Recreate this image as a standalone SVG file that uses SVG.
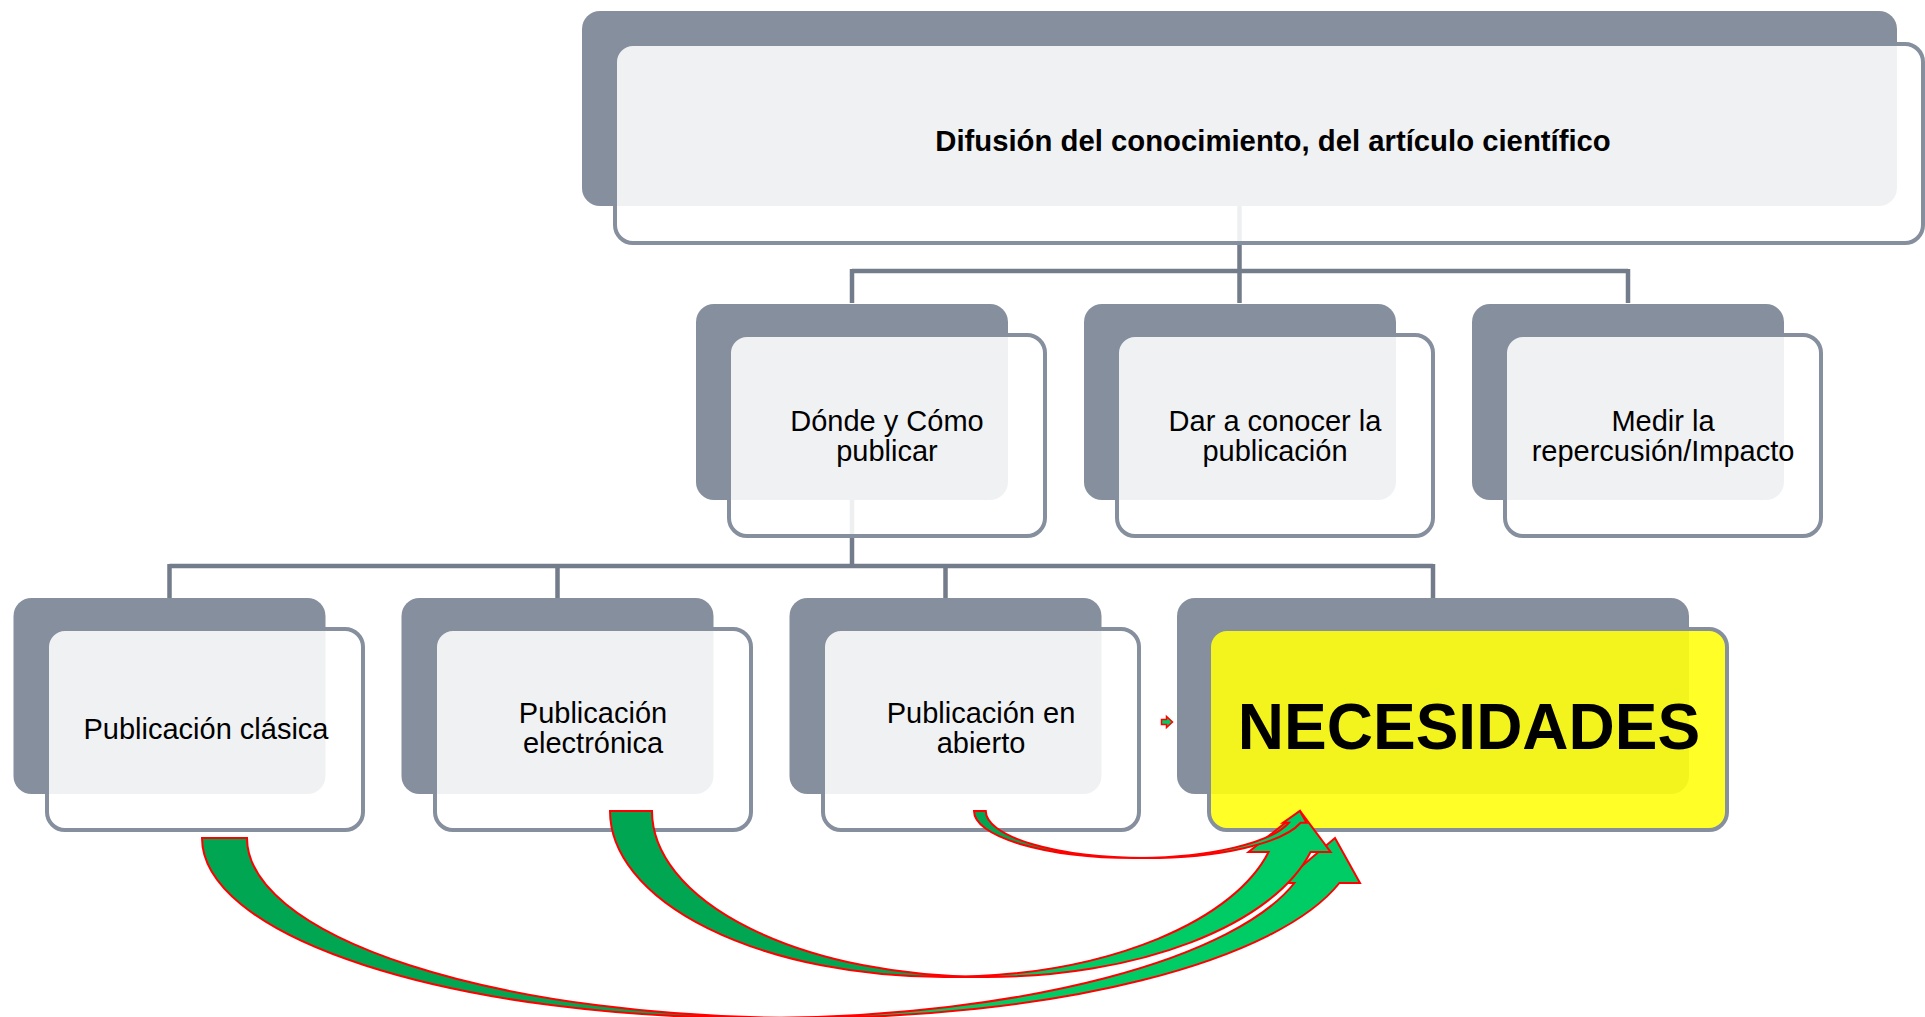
<svg xmlns="http://www.w3.org/2000/svg" width="1925" height="1017" viewBox="0 0 1925 1017">
<defs>
<style>
.back{fill:#868F9D;}
.front{fill:#FFFFFF;fill-opacity:0.88;stroke:#868F9D;stroke-width:4;}
.fronty{fill:#FFFF10;fill-opacity:0.9;stroke:#868F9D;stroke-width:4;}
.conn{stroke:#737C8B;stroke-width:4.5;fill:none;}
.lbl{font-family:"Liberation Sans",Arial,sans-serif;font-size:29px;fill:#000;text-anchor:middle;}
.bold{font-weight:bold;}
.al{fill:#00CC66;stroke:none;}
.ad{fill:#00A651;stroke:none;}
.ao{fill:none;stroke:#FF0000;stroke-width:2;stroke-linejoin:miter;}
</style>
</defs>
<rect width="1925" height="1017" fill="#FFFFFF"/>
<g id="connectors">
<path class="conn" d="M1239.5,206 V271 M852,271 H1628 M852,269 V303 M1239.5,269 V303 M1628,269 V303"/>
<path class="conn" d="M852,500 V566 M169.5,566 H1433 M169.5,564 V598 M557.5,564 V598 M945.5,564 V598 M1433,564 V598"/>
</g>
<g id="node-top">
<rect class="back" x="582" y="11" width="1315" height="195" rx="18"/>
<rect class="front" x="615" y="44" width="1308" height="199" rx="18"/>
<text class="lbl bold" x="1273" y="151" style="font-size:29.3px">Difusión del conocimiento, del artículo científico</text>
</g>
<g id="node-donde">
<rect class="back" x="696" y="304" width="312" height="196" rx="18"/>
<rect class="front" x="729" y="335" width="316" height="201" rx="18"/>
<text class="lbl" x="887" y="431">Dónde y Cómo</text>
<text class="lbl" x="887" y="461">publicar</text>
</g>
<g id="node-dar">
<rect class="back" x="1084" y="304" width="312" height="196" rx="18"/>
<rect class="front" x="1117" y="335" width="316" height="201" rx="18"/>
<text class="lbl" x="1275" y="431">Dar a conocer la</text>
<text class="lbl" x="1275" y="461">publicación</text>
</g>
<g id="node-medir">
<rect class="back" x="1472" y="304" width="312" height="196" rx="18"/>
<rect class="front" x="1505" y="335" width="316" height="201" rx="18"/>
<text class="lbl" x="1663" y="431">Medir la</text>
<text class="lbl" x="1663" y="461">repercusión/Impacto</text>
</g>
<g id="node-clasica">
<rect class="back" x="13.5" y="598" width="312" height="196" rx="18"/>
<rect class="front" x="47" y="629" width="316" height="201" rx="18"/>
<text class="lbl" x="206" y="739">Publicación clásica</text>
</g>
<g id="node-electronica">
<rect class="back" x="401.5" y="598" width="312" height="196" rx="18"/>
<rect class="front" x="435" y="629" width="316" height="201" rx="18"/>
<text class="lbl" x="593" y="723">Publicación</text>
<text class="lbl" x="593" y="753">electrónica</text>
</g>
<g id="node-abierto">
<rect class="back" x="789.5" y="598" width="312" height="196" rx="18"/>
<rect class="front" x="823" y="629" width="316" height="201" rx="18"/>
<text class="lbl" x="981" y="723">Publicación en</text>
<text class="lbl" x="981" y="753">abierto</text>
</g>
<g id="node-necesidades">
<rect class="back" x="1177" y="598" width="512" height="196" rx="18"/>
<rect class="fronty" x="1209" y="629" width="518" height="201" rx="18"/>
<text class="lbl bold" x="1469" y="749" style="font-size:64px">NECESIDADES</text>
</g>
<g id="arrows">
<g id="arrow-a">
<path class="al" d="M1335,838 L1360,883 L1339.4,883 A555,180 0 0 1 779.5,1017.85 A555,180 0 0 0 1294.4,883 L1282,883 Z"/>
<path class="ad" d="M757,1018 A555,180 0 0 1 202,838 L247,838 A555,180 0 0 0 802,1018 Z"/>
<path class="ao" d="M779.5,1017.85 A555,180 0 0 0 1294.4,883 L1282,883 L1335,838 L1360,883 L1339.4,883 A555,180 0 0 1 802,1018 L757,1018 A555,180 0 0 1 202,838 L247,838 A555,180 0 0 0 802,1018"/>
</g>
<g id="arrow-b">
<path class="al" d="M1300,811 L1330.6,852 L1310.6,852 A334.5,166 0 0 1 965.5,976.7 A334.5,166 0 0 0 1268.6,852 L1248.6,852 Z"/>
<path class="ad" d="M944.5,977 A334.5,166 0 0 1 610,811 L652,811 A334.5,166 0 0 0 986.5,977 Z"/>
<path class="ao" d="M965.5,976.7 A334.5,166 0 0 0 1268.6,852 L1248.6,852 L1300,811 L1330.6,852 L1310.6,852 A334.5,166 0 0 1 986.5,977 L944.5,977 A334.5,166 0 0 1 610,811 L652,811 A334.5,166 0 0 0 986.5,977"/>
</g>
<g id="arrow-c">
<path class="al" d="M1299.9,811 L1306.5,822.75 L1300.65,822.75 A160,47 0 0 1 1139.9,857.97 A160,47 0 0 0 1288.9,822.75 L1283,822.75 Z"/>
<path class="ad" d="M1134,858 A160,47 0 0 1 974,811 L985.75,811 A160,47 0 0 0 1145.75,858 Z"/>
<path class="ao" d="M1139.9,857.97 A160,47 0 0 0 1288.9,822.75 L1283,822.75 L1299.9,811 L1306.5,822.75 L1300.65,822.75 A160,47 0 0 1 1145.75,858 L1134,858 A160,47 0 0 1 974,811 L985.75,811 A160,47 0 0 0 1145.75,858"/>
</g>
<g id="arrow-small">
<path class="al" d="M1161.5,719.5 H1166.5 V716.5 L1172.5,722 L1166.5,727.5 V724.5 H1161.5 Z" style="stroke:#FF0000;stroke-width:1.5"/>
</g>
</g>
</svg>
